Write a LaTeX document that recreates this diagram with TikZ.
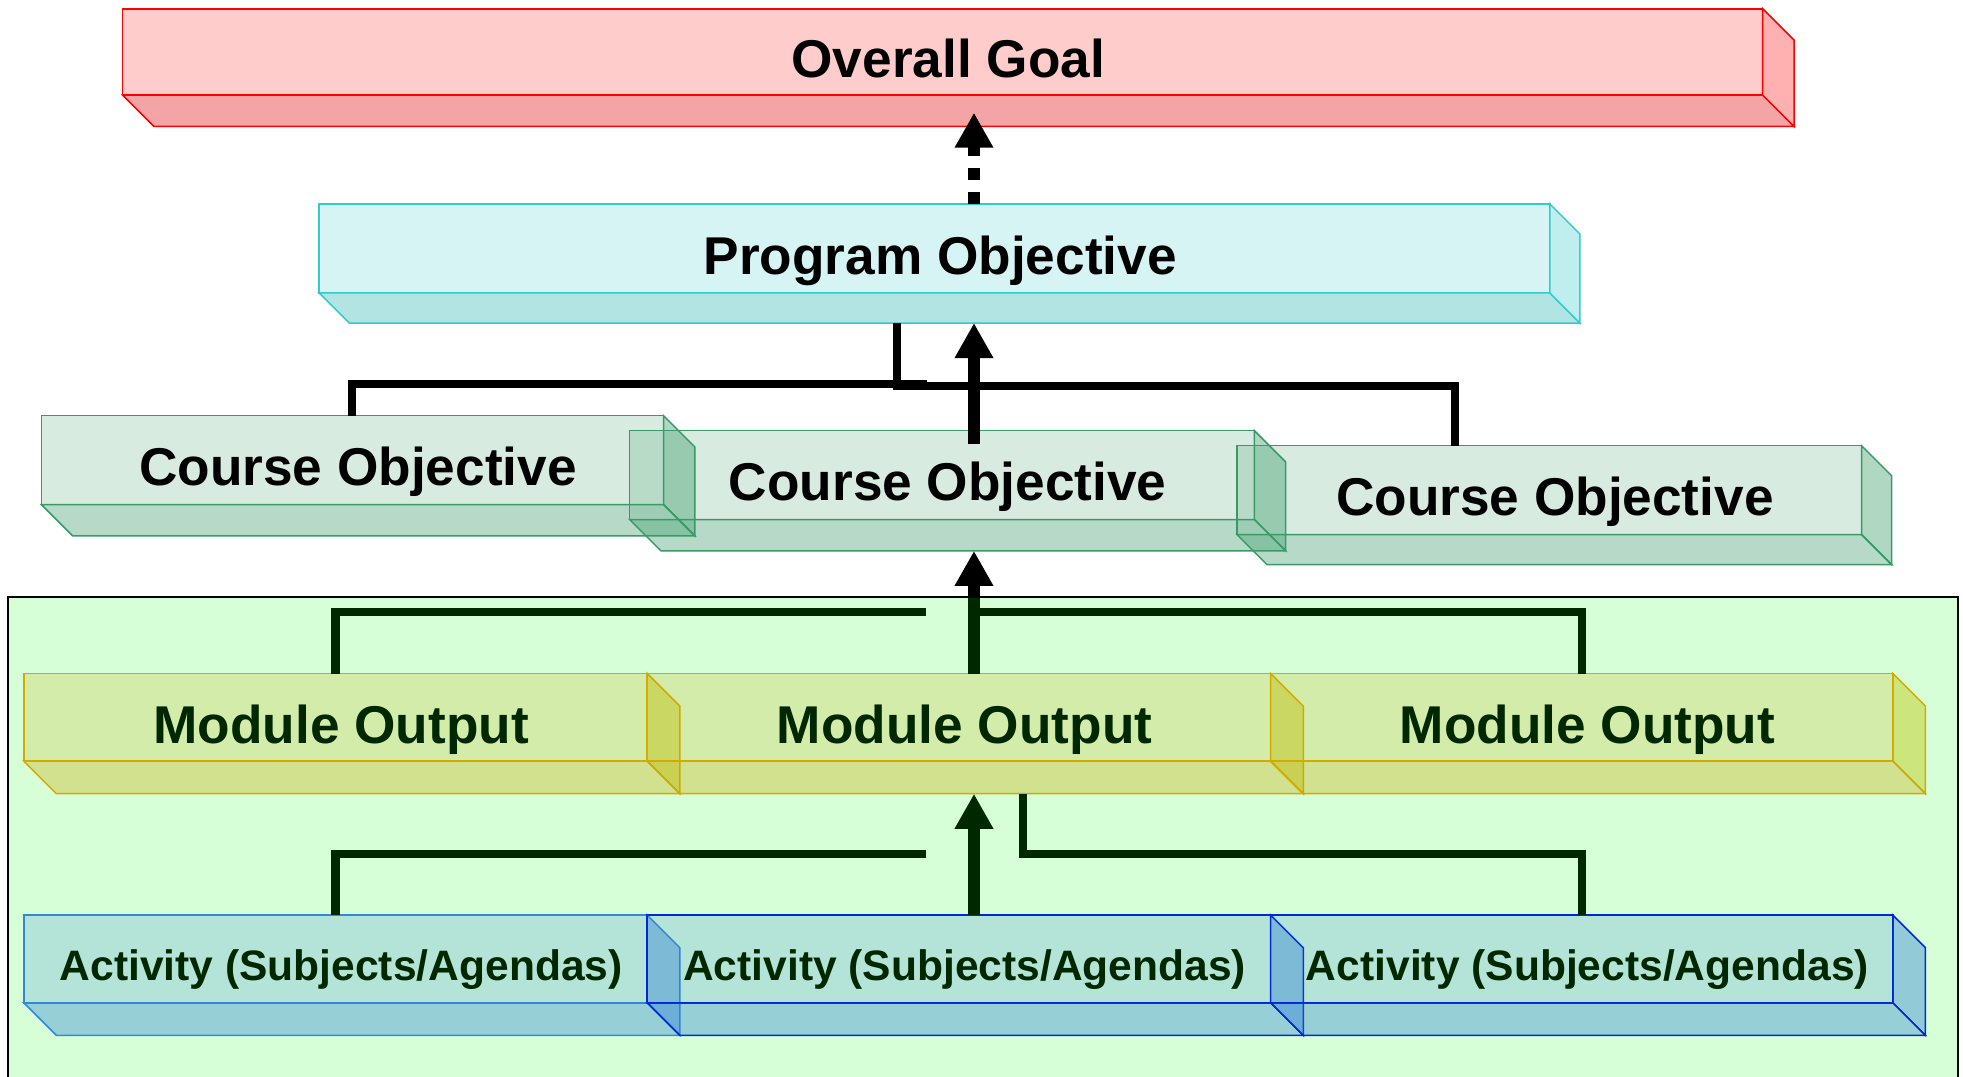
\documentclass[tikz,border=0pt]{standalone}
\usepackage{fontspec}
\setmainfont{Liberation Sans}
\usetikzlibrary{arrows.meta,calc}
\definecolor{ogF}{HTML}{FFCCCC}
\definecolor{ogB}{HTML}{F4A4A4}
\definecolor{ogR}{HTML}{FFB0B0}
\definecolor{ogL}{HTML}{FF0000}
\definecolor{poF}{HTML}{D6F4F4}
\definecolor{poB}{HTML}{B2E4E4}
\definecolor{poR}{HTML}{BEEEEE}
\definecolor{poL}{HTML}{33CCCC}
\definecolor{coC}{RGB}{57,154,103}
\definecolor{moC}{RGB}{235,150,0}
\definecolor{moR}{RGB}{225,185,0}
\definecolor{moL}{RGB}{250,155,0}
\definecolor{acC}{RGB}{50,100,255}
\definecolor{acL}{RGB}{60,114,255}
\definecolor{acLL}{RGB}{0,0,255}
\tikzset{
  box/.style={anchor=north west, inner sep=0pt, outer sep=0pt, line width=1.2pt,
    font=\fontsize{42.5}{48}\selectfont\bfseries, text height=41pt, text depth=0pt, text opacity=1},
  face/.style={line width=1.2pt, line join=miter},
  og front/.style={box, draw=ogL, fill=ogF},
  og bottom/.style={face, draw=ogL, fill=ogB},
  og right/.style={face, draw=ogL, fill=ogR},
  po front/.style={box, draw=poL, fill=poF},
  po bottom/.style={face, draw=poL, fill=poB},
  po right/.style={face, draw=poL, fill=poR},
  co front/.style={box, draw=coC, fill=coC, fill opacity=0.2},
  co bottom/.style={face, draw=coC, fill=coC, fill opacity=0.37},
  co right/.style={face, draw=coC, fill=coC, fill opacity=0.4},
  mo front/.style={box, draw=moL, fill=moC, fill opacity=0.21},
  mo bottom/.style={face, draw=moL, fill=moC, fill opacity=0.34},
  mo right/.style={face, draw=moL, fill=moR, fill opacity=0.42},
  ac front/.style={box, draw=acLL, fill=acC, fill opacity=0.205,
    font=\fontsize{34}{40}\selectfont\bfseries, text height=34pt},
  ac bottom/.style={face, draw=acLL, fill=acC, fill opacity=0.37},
  ac right/.style={face, draw=acLL, fill=acC, fill opacity=0.4},
  acone front/.style={ac front, draw=acL},
  acone bottom/.style={ac bottom, draw=acL},
  acone right/.style={ac right, draw=acL},
  arr/.style={line width=9.5pt, line cap=butt, -{Triangle[length=28pt,width=29pt]}},
  link/.style={line width=6.5pt, line cap=butt, line join=miter},
}
\newcommand{\cubo}[8]{%
  \node[#2 front, minimum width=#5pt, minimum height=#6pt] (#1) at (#3,#4) {\hspace*{9pt}#8};
  \path[#2 bottom] (#1.south west) -- (#1.south east) -- ++(#7,#7) -- ($(#1.south west)+(#7,#7)$) -- cycle;
  \path[#2 right] (#1.north east) -- ++(#7,#7) -- ($(#1.south east)+(#7,#7)$) -- (#1.south east) -- cycle;
  \coordinate (#1-back) at ($(#1.south)+(#7,#7)$);
}
\begin{document}
\begin{tikzpicture}[x=1pt,y=-1pt]
\useasboundingbox (0,0) rectangle (1568,860);
\cubo{og}{og}{98}{7}{1310}{69}{25}{Overall Goal}
\cubo{po}{po}{255}{163}{983}{71}{24}{Program Objective}
\cubo{co1}{co}{33}{332}{497}{71}{25}{Course Objective}
\cubo{co2}{co}{503}{344}{499}{71}{25}{Course Objective}
\cubo{co3}{co}{988}{356}{499}{71}{24}{Course Objective}
\cubo{mo1}{mo}{19}{538}{498}{70}{26}{Module Output}
\cubo{mo2}{mo}{517}{538}{498}{70}{26}{Module Output}
\cubo{mo3}{mo}{1015}{538}{497}{70}{26}{Module Output}
\cubo{ac1}{acone}{19}{731}{498}{70}{26}{Activity (Subjects/Agendas)}
\cubo{ac2}{ac}{517}{731}{498}{70}{26}{Activity (Subjects/Agendas)}
\cubo{ac3}{ac}{1015}{731}{497}{70}{26}{Activity (Subjects/Agendas)}
% helper coordinates
\coordinate (spine) at (778,0);
\coordinate (k0) at (716.6,0);
\coordinate (k3) at (1162,0);
\coordinate (k4) at (817,0);
\coordinate (bar1) at (0,308);
\coordinate (end1) at (740.8,306.5);
\coordinate (bar2) at (0,489);
\coordinate (end2) at (740,489);
\coordinate (bar3) at (0,682);
\coordinate (end3) at (740,682);
% connectors
\draw[arr, dash pattern=on 9.5pt off 9.5pt] (spine |- po.north) -- ($(spine |- og-back)+(0,-11)$);
\draw[link] (co1.north) |- (end1);
\draw[link] (k3 |- co3.north) -- (k3 |- bar1) -| (k0 |- po-back);
\draw[arr] ($(spine |- co2.north)+(0,11)$) -- (spine |- po-back);
\draw[link] (mo1.north) |- (end2);
\draw[link] (mo3.north) |- (spine |- bar2);
\draw[arr] (spine |- mo2.north) -- (spine |- co2-back);
\draw[link] (ac1.north) |- (end3);
\draw[link] (ac3.north) -- (ac3.north |- bar3) -| (k4 |- mo2-back);
\draw[arr] (spine |- ac2.north) -- (spine |- mo2-back);
% translucent green panel over the lower part
\fill[green, fill opacity=0.155] (6,477) rectangle (1564,866);
\draw[line width=1.6pt] (6,866) -- (6,477) -- (1564,477) -- (1564,866);
\end{tikzpicture}
\end{document}
